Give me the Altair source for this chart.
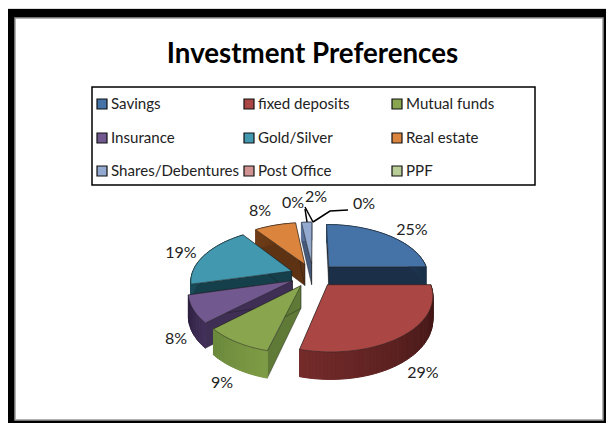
import math
import altair as alt

W, H = 598, 415
OX, OY = 8, 8

title = "Investment Preferences"
categories = ["Savings", "fixed deposits", "Mutual funds", "Insurance", "Gold/Silver",
              "Real estate", "Shares/Debentures", "Post Office", "PPF"]
values = [25, 29, 9, 8, 19, 8, 2, 0, 0]
colors = ["#4572A7", "#AA4643", "#89A54E", "#71588F", "#4198AF", "#DB843D", "#93A9CF", "#D19392", "#B9CD96"]
cut_colors = ["#1B3048", "#5A2020", "#5F7A36", "#3F2F55", "#163F4C", "#5E3313", "#45597C", "#D19392", "#B9CD96"]
rim_start = ["#2A4A70", "#3A1313", "#7E9B45", "#43305A", "#1E4F5E", "#6E3D18", "#5A7199", "#D19392", "#B9CD96"]
rim_end = ["#1B3048", "#742B2A", "#6C8A3C", "#2E2040", "#163F4C", "#5E3313", "#45597C", "#D19392", "#B9CD96"]
label_text = ["25%", "29%", "9%", "8%", "19%", "8%", "2%", "0%", "0%"]
label_x = [412, 423, 222, 176, 181, 260, 316, 293, 364]
label_y = [230, 373, 383, 339, 253, 211, 197, 203, 204]
draw_order = [6, 5, 0, 4, 3, 2, 1]

CX, CY, R, B, K, E, D = 313, 275, 100, 52, 0.17, 0.23, 22


def fx(x):
    return x - OX


def fy(y):
    return y - OY


def project(u, v, z=0.0):
    s = 1 / (1 - K * v)
    return [fx(CX + R * u * s), fy(CY + B * v * s + z * D * s)]


def rim(a, um, vm):
    return math.sin(a) + E * um, -math.cos(a) + E * vm


def mix(c1, c2, t):
    a = [int(c1[i:i + 2], 16) for i in (1, 3, 5)]
    b = [int(c2[i:i + 2], 16) for i in (1, 3, 5)]
    return "#%02x%02x%02x" % tuple(round(p + (q - p) * t) for p, q in zip(a, b))


def feature(points, fill, stroke, width):
    return {"type": "Feature", "properties": {"fill": fill, "stroke": stroke, "sw": width},
            "geometry": {"type": "Polygon", "coordinates": [points + [points[0]]]}}


starts = [sum(values[:i]) for i in range(len(values))]
features = []
for i in draw_order:
    a0 = starts[i] / 100 * 2 * math.pi
    a1 = (starts[i] + values[i]) / 100 * 2 * math.pi
    am = (a0 + a1) / 2
    um, vm = math.sin(am), -math.cos(am)
    apex = (E * um, E * vm)
    n = max(3, int(values[i] * 2))
    angles = [a0 + (a1 - a0) * k / n for k in range(n + 1)]
    edge = [rim(a, um, vm) for a in angles]
    for p in (edge[0], edge[-1]):
        features.append(feature([project(*apex), project(*p), project(*p, 1), project(*apex, 1)],
                                cut_colors[i], "#1a1a1a", 0.4))
    for k in range(n):
        c = mix(rim_start[i], rim_end[i], k / max(1, n - 1))
        p, q = edge[k], edge[k + 1]
        features.append(feature([project(*p), project(*q), project(*q, 1), project(*p, 1)], c, c, 1.0))
    features.append(feature([project(*apex)] + [project(*p) for p in edge], colors[i], "#222222", 0.5))

pie = alt.Chart(alt.InlineData(values={"type": "FeatureCollection", "features": features},
                               format=alt.DataFormat(type="json", property="features"))).mark_geoshape().encode(
    fill=alt.Fill("properties.fill:N", scale=None),
    stroke=alt.Stroke("properties.stroke:N", scale=None),
    strokeWidth=alt.StrokeWidth("properties.sw:Q", scale=None),
).project(type="identity", scale=1, translate=[0, 0])

px = lambda f: alt.X(f, scale=None, axis=None)
py = lambda f: alt.Y(f, scale=None, axis=None)
one = alt.Data(values=[{"a": 0}])

frame_outer = alt.Chart(one).mark_rect(fill="black").encode(
    x=alt.value(0), x2=alt.value(W), y=alt.value(fy(9)), y2=alt.value(H))
frame_inner = alt.Chart(one).mark_rect(fill="white", stroke="#999999", strokeWidth=1.5).encode(
    x=alt.value(fx(15)), x2=alt.value(fx(603)), y=alt.value(fy(18)), y2=alt.value(fy(420)))

title_mark = alt.Chart(alt.Data(values=[{"t": title, "x": fx(312.5), "y": fy(55)}])).mark_text(
    font="Lato", fontSize=27.7, fontWeight="bold", color="black", baseline="middle", align="center").encode(
    x=px("x:Q"), y=py("y:Q"), text="t:N")

box = alt.Chart(one).mark_rect(fill="white", stroke="black", strokeWidth=1.5).encode(
    x=alt.value(fx(92)), x2=alt.value(fx(535)), y=alt.value(fy(87)), y2=alt.value(fy(185)))

col_x = [97, 244, 392]
row_y = [104, 138, 171]
legend_rows = [{"name": c, "color": colors[i],
                "sx": fx(col_x[i % 3]), "sx2": fx(col_x[i % 3] + 10),
                "tx": fx(col_x[i % 3] + 14),
                "sy": fy(row_y[i // 3] - 5), "sy2": fy(row_y[i // 3] + 5),
                "ty": fy(row_y[i // 3])} for i, c in enumerate(categories)]
swatches = alt.Chart(alt.Data(values=legend_rows)).mark_rect(stroke="#111111", strokeWidth=1.2).encode(
    x=px("sx:Q"), x2="sx2:Q", y=py("sy:Q"), y2="sy2:Q", fill=alt.Fill("color:N", scale=None))
legend_text = alt.Chart(alt.Data(values=legend_rows)).mark_text(
    font="Lato", fontSize=15.1, color="#222222", align="left", baseline="middle").encode(
    x=px("tx:Q"), y=py("ty:Q"), text="name:N")

label_rows = [{"t": t, "x": fx(x), "y": fy(y)} for t, x, y in zip(label_text, label_x, label_y)]
labels = alt.Chart(alt.Data(values=label_rows)).mark_text(
    font="Lato", fontSize=16, color="#222222", align="center", baseline="middle").encode(
    x=px("x:Q"), y=py("y:Q"), text="t:N")

leader_a = [(305, 207), (313, 222)]
leader_b = [(305, 209), (307, 222)]
leader_c = [(348, 210), (330, 211), (313, 222)]
leader_rows = []
for g, pts in enumerate([leader_a, leader_b, leader_c]):
    for o, (x, y) in enumerate(pts):
        leader_rows.append({"g": g, "o": o, "x": fx(x), "y": fy(y)})
leaders = alt.Chart(alt.Data(values=leader_rows)).mark_line(color="black", strokeWidth=1.5).encode(
    x=px("x:Q"), y=py("y:Q"), detail="g:N", order="o:Q")

chart = alt.layer(frame_outer, frame_inner, title_mark, box, swatches, legend_text, pie, leaders, labels).properties(
    width=W, height=H, padding=0, autosize=alt.AutoSizeParams(type="none")
).configure_view(stroke=None).configure(background="white")

chart.save("out.html", embed_options={"renderer": "svg", "actions": False})
